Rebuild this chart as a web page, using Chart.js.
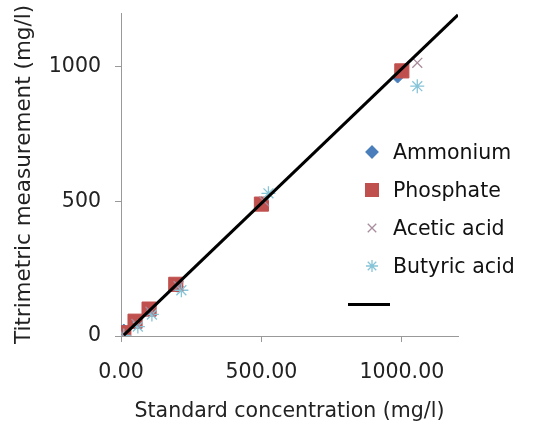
<!DOCTYPE html>
<html><head><meta charset="utf-8">
<script src="https://cdn.jsdelivr.net/npm/chart.js@4"></script>
<style>
html,body{margin:0;padding:0;background:#fff;}
#wrap{position:relative;width:550px;height:426px;}
#legend{position:absolute;left:362px;top:133px;font-family:"DejaVu Sans",Verdana,sans-serif;font-size:20.5px;color:#111;}
.row{height:38px;display:flex;align-items:center;}
.mk{width:26px;height:20px;margin-right:5px;}
</style>
</head><body>
<div id="wrap">
<canvas id="c" width="550" height="426"></canvas>
<div id="legend"></div>
</div>
<script>
const seriesNames = ["Ammonium", "Phosphate", "Acetic acid", "Butyric acid"];
const ammoniumX = [10, 50, 100, 200, 500, 985];
const ammoniumY = [22, 48, 95, 185, 495, 962];
const phosphateX = [10, 50, 100, 195, 500, 1000];
const phosphateY = [12, 55, 100, 192, 490, 985];
const aceticX = [10, 55, 105, 205, 510, 1055];
const aceticY = [5, 45, 90, 185, 500, 1015];
const butyricX = [10, 60, 110, 215, 525, 1055];
const butyricY = [2, 35, 80, 170, 530, 928];
const fitX = [10, 1200];
const fitY = [3, 1193];
const xTicks = [0, 500, 1000];
const yTicks = [0, 500, 1000];

const colors = ["#4a7ebb", "#c0504d", "#a88c9c", "#86c4d8"];
const styles = ["rectRot", "rect", "crossRot", "star"];
const radii = [6, 10, 7, 7];
const xs = [ammoniumX, phosphateX, aceticX, butyricX];
const ys = [ammoniumY, phosphateY, aceticY, butyricY];
const FONT = "DejaVu Sans";
const FS = 20.5;

const pts = (X, Y) => X.map((x, i) => ({x: x, y: Y[i]}));
const datasets = [];
seriesNames.forEach((n, i) => {
  datasets.push({
    label: n, data: pts(xs[i], ys[i]),
    pointStyle: styles[i], pointRadius: radii[i],
    backgroundColor: colors[i], borderColor: colors[i],
    pointBorderWidth: (i >= 2) ? 1.3 : 1, showLine: false,
    order: i === 1 ? 3 : (i === 0 ? 4 : 2)
  });
});
datasets.push({
  label: "fit", data: pts(fitX, fitY), showLine: true,
  borderColor: "#000", borderWidth: 3, pointRadius: 0, order: 0
});

new Chart(document.getElementById("c"), {
  type: "scatter",
  data: {datasets: datasets},
  options: {
    responsive: false, animation: false,
    layout: {padding: {top: 13, right: 92, left: 0, bottom: 0}},
    plugins: {legend: {display: false}, tooltip: {enabled: false}},
    scales: {
      x: {
        type: "linear", min: 0, max: 1200,
        afterFit: s => { s.height = 90; s.paddingLeft = 0; s.paddingRight = 0; },
        afterBuildTicks: s => { s.ticks = xTicks.map(v => ({value: v})); },
        ticks: {
          callback: v => v.toFixed(2),
          font: {family: FONT, size: FS}, color: "#222", padding: 18, maxRotation: 0
        },
        grid: {drawOnChartArea: false, drawTicks: true, tickLength: 6, color: "#999"},
        border: {color: "#999", width: 1},
        title: {display: true, text: "Standard concentration (mg/l)",
          font: {family: FONT, size: FS}, color: "#222", padding: {top: 0, bottom: 2}}
      },
      y: {
        type: "linear", min: 0, max: 1200,
        afterFit: s => { s.width = 121; s.paddingTop = 0; s.paddingBottom = 0; },
        afterBuildTicks: s => { s.ticks = yTicks.map(v => ({value: v})); },
        ticks: {
          callback: v => String(v),
          font: {family: FONT, size: FS}, color: "#222", padding: 14
        },
        grid: {drawOnChartArea: false, drawTicks: true, tickLength: 6, color: "#999"},
        border: {color: "#999", width: 1},
        title: {display: true, text: "Titrimetric measurement (mg/l)",
          font: {family: FONT, size: 21.5}, color: "#222", padding: {top: 12, bottom: 0}}
      }
    }
  }
});

const lg = document.getElementById("legend");
seriesNames.forEach((n, i) => {
  const row = document.createElement("div"); row.className = "row";
  const c = document.createElement("canvas"); c.width = 26; c.height = 20; c.className = "mk";
  const ctx = c.getContext("2d");
  ctx.fillStyle = colors[i]; ctx.strokeStyle = colors[i]; ctx.lineWidth = 1.3;
  Chart.helpers.drawPoint(ctx, {pointStyle: styles[i], radius: i === 1 ? 9 : 6, rotation: 0, borderWidth: 1.3}, 10, 10);
  const t = document.createElement("span"); t.textContent = n;
  row.appendChild(c); row.appendChild(t); lg.appendChild(row);
});
const lrow = document.createElement("div"); lrow.className = "row";
const ln = document.createElement("div");
ln.style.cssText = "width:42px;height:3px;background:#000;margin-left:-14px;margin-top:0px;";
lrow.appendChild(ln); lg.appendChild(lrow);
</script>
</body></html>
